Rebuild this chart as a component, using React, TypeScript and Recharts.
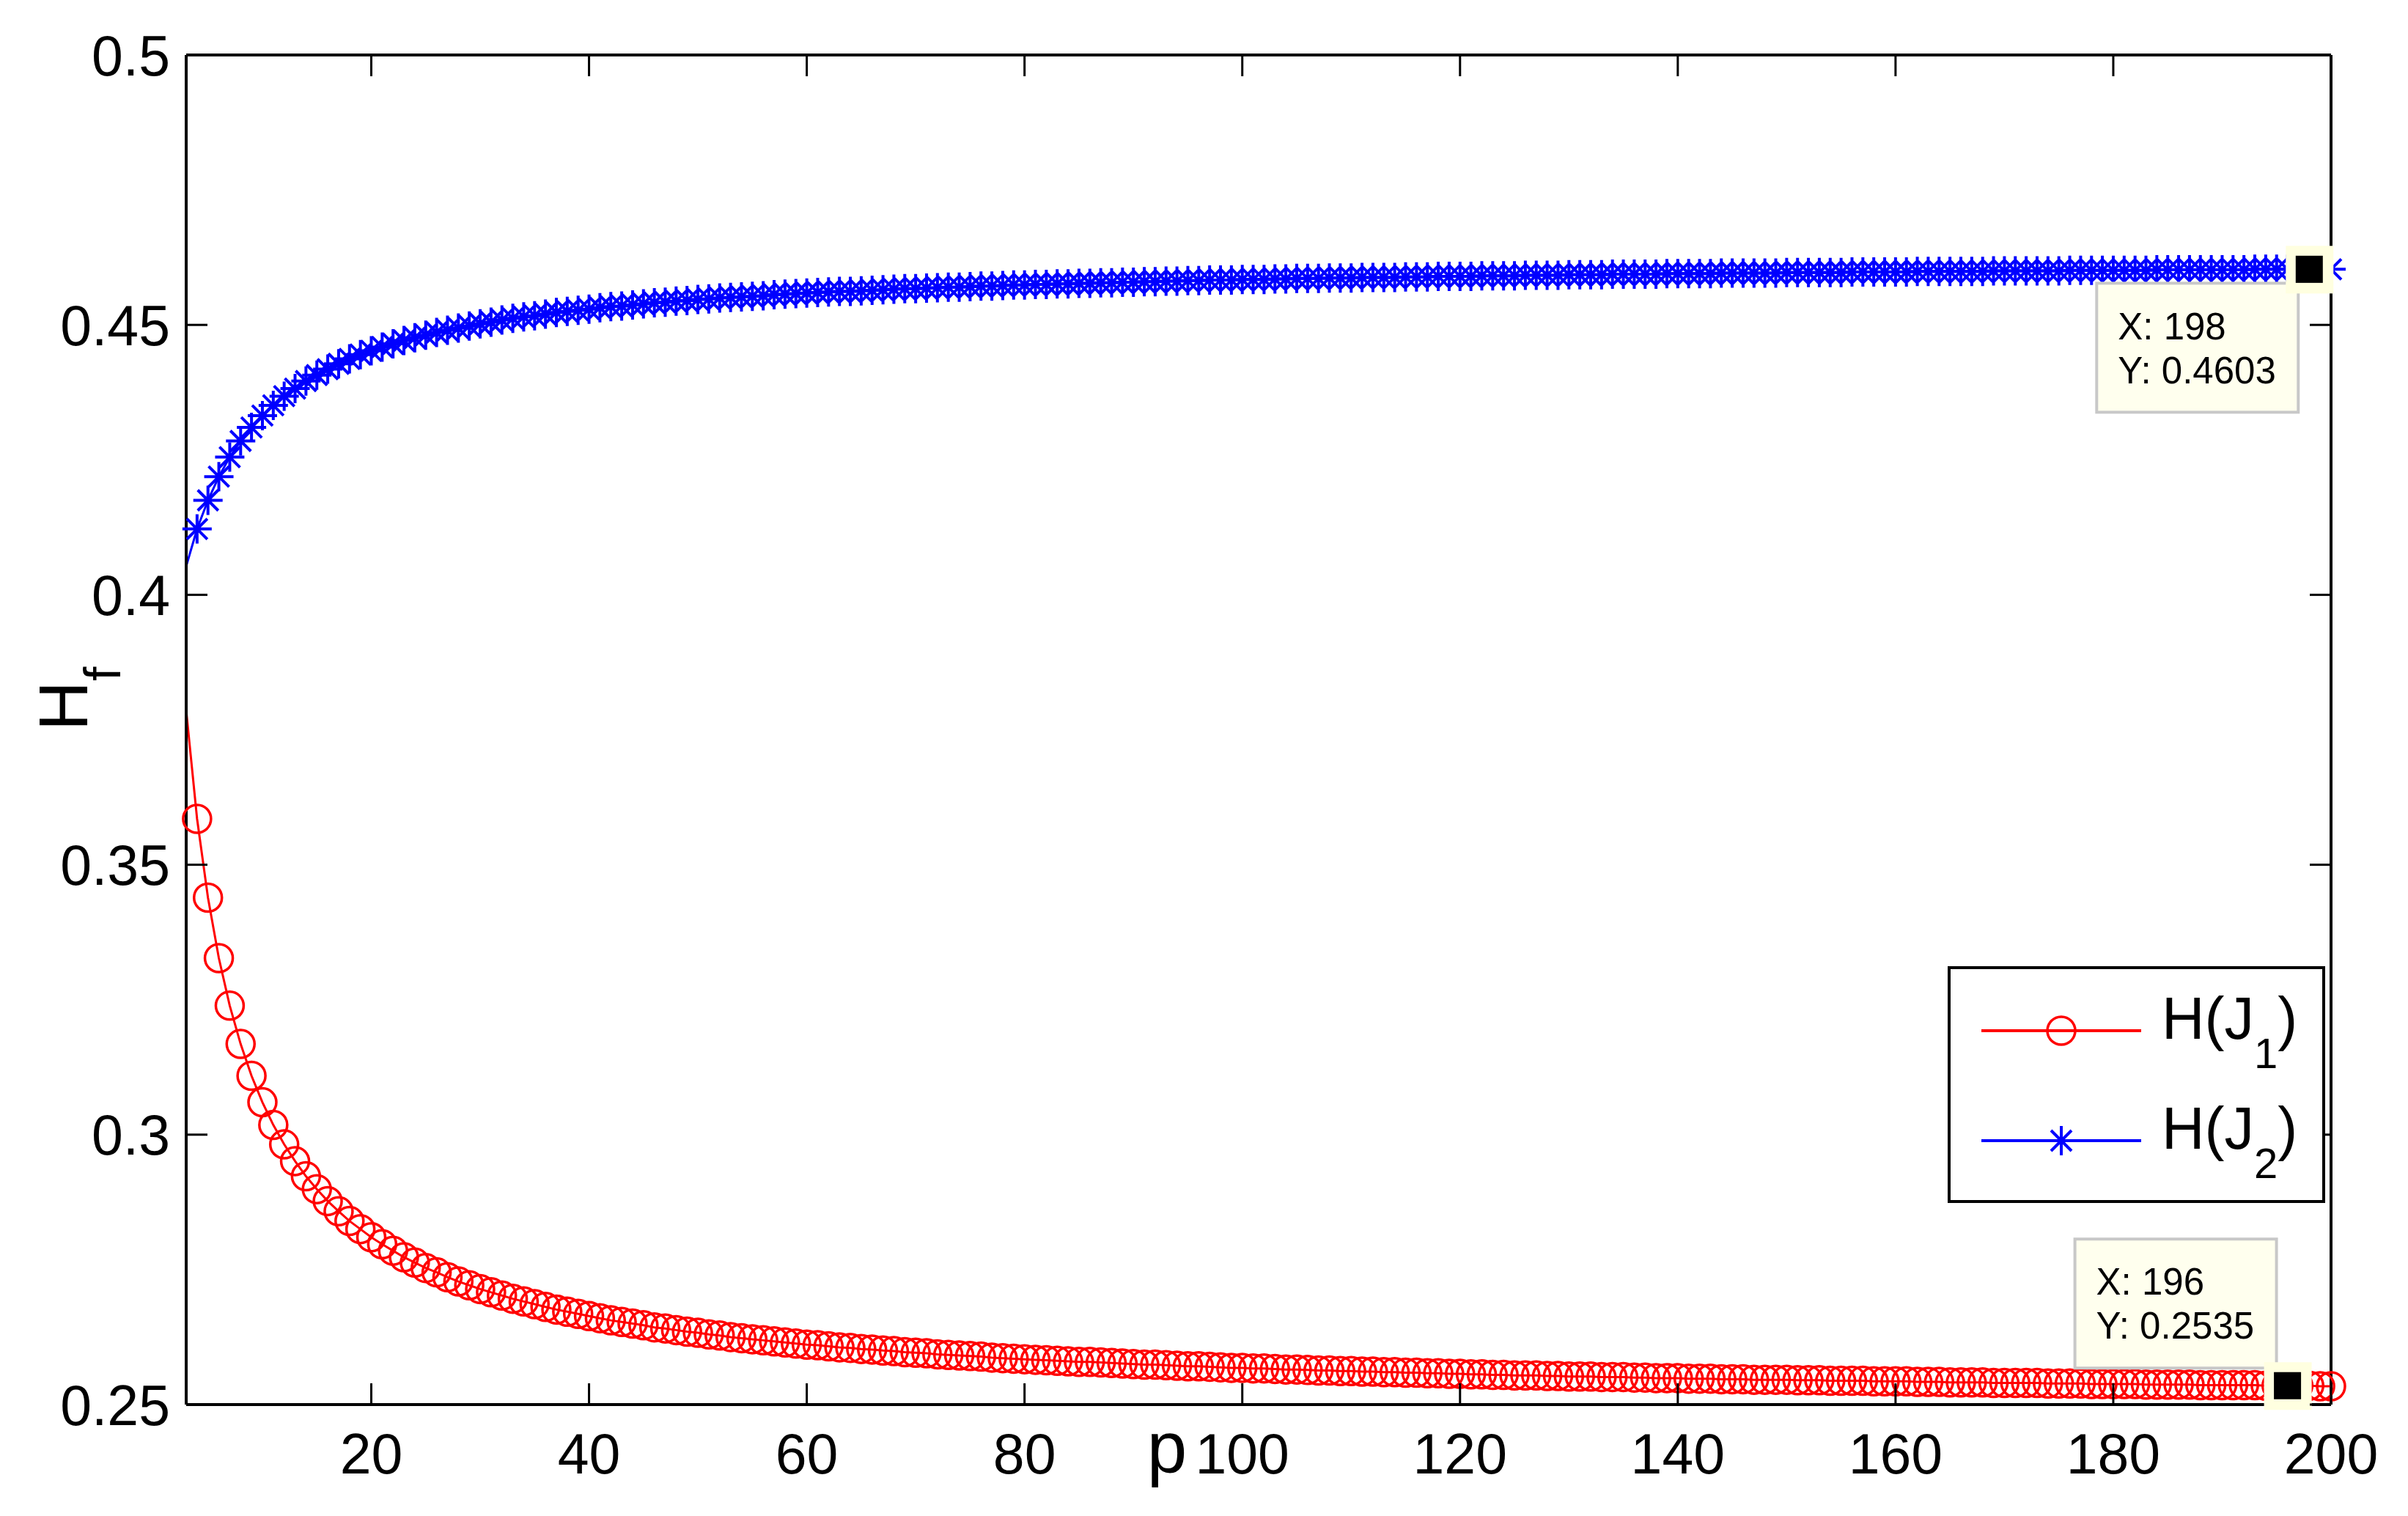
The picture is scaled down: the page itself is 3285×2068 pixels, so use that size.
import React from "react";
import { LineChart, Line, XAxis, YAxis, ReferenceLine, Legend } from "recharts";

// H(J1), p = 3 .. 200
const hJ1 = [
  0.3786, 0.3585, 0.3439, 0.3327, 0.3239, 0.3168, 0.3109, 0.306, 0.3018, 0.2982,
  0.2951, 0.2923, 0.2899, 0.2877, 0.2858, 0.284, 0.2825, 0.281, 0.2797, 0.2785,
  0.2773, 0.2763, 0.2753, 0.2745, 0.2736, 0.2728, 0.2721, 0.2714, 0.2708, 0.2702,
  0.2696, 0.2691, 0.2686, 0.2681, 0.2676, 0.2672, 0.2668, 0.2664, 0.266, 0.2656,
  0.2653, 0.265, 0.2647, 0.2643, 0.2641, 0.2638, 0.2635, 0.2633, 0.263, 0.2628,
  0.2625, 0.2623, 0.2621, 0.2619, 0.2617, 0.2615, 0.2613, 0.2611, 0.261, 0.2608,
  0.2606, 0.2605, 0.2603, 0.2602, 0.26, 0.2599, 0.2597, 0.2596, 0.2595, 0.2593,
  0.2592, 0.2591, 0.259, 0.2589, 0.2587, 0.2586, 0.2585, 0.2584, 0.2583, 0.2582,
  0.2581, 0.258, 0.2579, 0.2579, 0.2578, 0.2577, 0.2576, 0.2575, 0.2574, 0.2574,
  0.2573, 0.2572, 0.2571, 0.2571, 0.257, 0.2569, 0.2568, 0.2568, 0.2567, 0.2567,
  0.2566, 0.2565, 0.2565, 0.2564, 0.2563, 0.2563, 0.2562, 0.2562, 0.2561, 0.2561,
  0.256, 0.256, 0.2559, 0.2559, 0.2558, 0.2558, 0.2557, 0.2557, 0.2556, 0.2556,
  0.2555, 0.2555, 0.2554, 0.2554, 0.2554, 0.2553, 0.2553, 0.2552, 0.2552, 0.2552,
  0.2551, 0.2551, 0.2551, 0.255, 0.255, 0.2549, 0.2549, 0.2549, 0.2548, 0.2548,
  0.2548, 0.2547, 0.2547, 0.2547, 0.2546, 0.2546, 0.2546, 0.2546, 0.2545, 0.2545,
  0.2545, 0.2544, 0.2544, 0.2544, 0.2544, 0.2543, 0.2543, 0.2543, 0.2543, 0.2542,
  0.2542, 0.2542, 0.2541, 0.2541, 0.2541, 0.2541, 0.254, 0.254, 0.254, 0.254,
  0.254, 0.2539, 0.2539, 0.2539, 0.2539, 0.2538, 0.2538, 0.2538, 0.2538, 0.2538,
  0.2537, 0.2537, 0.2537, 0.2537, 0.2537, 0.2536, 0.2536, 0.2536, 0.2536, 0.2536,
  0.2536, 0.2535, 0.2535, 0.2535, 0.2535, 0.2535, 0.2534, 0.2534,
];

// H(J2), p = 3 .. 200
const hJ2 = [
  0.4053, 0.4122, 0.4175, 0.4219, 0.4255, 0.4285, 0.431, 0.4332, 0.4351, 0.4368,
  0.4382, 0.4396, 0.4407, 0.4418, 0.4428, 0.4437, 0.4445, 0.4452, 0.4459, 0.4465,
  0.4471, 0.4476, 0.4481, 0.4486, 0.449, 0.4494, 0.4498, 0.4502, 0.4505, 0.4509,
  0.4512, 0.4515, 0.4517, 0.452, 0.4523, 0.4525, 0.4527, 0.4529, 0.4532, 0.4534,
  0.4535, 0.4537, 0.4539, 0.4541, 0.4542, 0.4544, 0.4545, 0.4547, 0.4548, 0.455,
  0.4551, 0.4552, 0.4553, 0.4554, 0.4556, 0.4557, 0.4558, 0.4559, 0.456, 0.4561,
  0.4562, 0.4562, 0.4563, 0.4564, 0.4565, 0.4566, 0.4567, 0.4567, 0.4568, 0.4569,
  0.457, 0.457, 0.4571, 0.4572, 0.4572, 0.4573, 0.4574, 0.4574, 0.4575, 0.4575,
  0.4576, 0.4576, 0.4577, 0.4577, 0.4578, 0.4578, 0.4579, 0.4579, 0.458, 0.458,
  0.4581, 0.4581, 0.4582, 0.4582, 0.4583, 0.4583, 0.4583, 0.4584, 0.4584, 0.4584,
  0.4585, 0.4585, 0.4586, 0.4586, 0.4586, 0.4587, 0.4587, 0.4587, 0.4588, 0.4588,
  0.4588, 0.4588, 0.4589, 0.4589, 0.4589, 0.459, 0.459, 0.459, 0.459, 0.4591,
  0.4591, 0.4591, 0.4591, 0.4592, 0.4592, 0.4592, 0.4592, 0.4593, 0.4593, 0.4593,
  0.4593, 0.4594, 0.4594, 0.4594, 0.4594, 0.4594, 0.4595, 0.4595, 0.4595, 0.4595,
  0.4595, 0.4596, 0.4596, 0.4596, 0.4596, 0.4596, 0.4596, 0.4597, 0.4597, 0.4597,
  0.4597, 0.4597, 0.4597, 0.4598, 0.4598, 0.4598, 0.4598, 0.4598, 0.4598, 0.4599,
  0.4599, 0.4599, 0.4599, 0.4599, 0.4599, 0.4599, 0.46, 0.46, 0.46, 0.46,
  0.46, 0.46, 0.46, 0.4601, 0.4601, 0.4601, 0.4601, 0.4601, 0.4601, 0.4601,
  0.4601, 0.4602, 0.4602, 0.4602, 0.4602, 0.4602, 0.4602, 0.4602, 0.4602, 0.4602,
  0.4603, 0.4603, 0.4603, 0.4603, 0.4603, 0.4603, 0.4603, 0.4603,
];

const pValues = hJ1.map((_, i) => i + 3);
const xTicks = [20, 40, 60, 80, 100, 120, 140, 160, 180, 200];
const yTicks = [0.25, 0.3, 0.35, 0.4, 0.45, 0.5];
const seriesNames = ["H(J1)", "H(J2)"];
const legendSubs = ["1", "2"];
const seriesColors = ["#ff0000", "#0000ff"];
// data tips: blue at p=198, red at p=196
const tipX = [198, 196];
const tipY = [0.4603, 0.2535];

const data = pValues.map((p, i) => {
  const t = tipX.indexOf(p);
  return { p, h1: hJ1[i], h2: hJ2[i], tip: t >= 0 ? tipY[t] : null };
});

const W = 3285;
const H = 2068;
const TOP = 75;
const BOTTOM = 1916;
const LEFT = 254;
const RIGHT = 3180;
const TICK = 29;
const FONT = "'Liberation Sans', Arial, Helvetica, sans-serif";

const starPath = (cx: number, cy: number) =>
  `M${cx - 20},${cy}H${cx + 20}M${cx},${cy - 20}V${cy + 20}` +
  `M${cx - 14},${cy - 14}L${cx + 14},${cy + 14}M${cx - 14},${cy + 14}L${cx + 14},${cy - 14}`;

const XTick = (props: any) => {
  const { x, payload } = props;
  return (
    <g>
      <line x1={x} x2={x} y1={BOTTOM} y2={BOTTOM - TICK} stroke="#000" strokeWidth={3} />
      <line x1={x} x2={x} y1={TOP} y2={TOP + TICK} stroke="#000" strokeWidth={3} />
      <text x={x} y={2010} textAnchor="middle" fontSize={77} fill="#000">
        {payload.value}
      </text>
    </g>
  );
};

const YTick = (props: any) => {
  const { y, payload } = props;
  return (
    <g>
      <line x1={LEFT} x2={LEFT + TICK} y1={y} y2={y} stroke="#000" strokeWidth={3} />
      <line x1={RIGHT} x2={RIGHT - TICK} y1={y} y2={y} stroke="#000" strokeWidth={3} />
      <text x={232} y={y + 27.5} textAnchor="end" fontSize={77} fill="#000">
        {String(payload.value)}
      </text>
    </g>
  );
};

const circleDot = (props: any) => {
  const { cx, cy, index, payload } = props;
  if (payload.p < 3.5) return <g key={`c-${index}`} />;
  return <circle key={`c-${index}`} cx={cx} cy={cy} r={19} fill="none" stroke={seriesColors[0]} strokeWidth={3.5} />;
};

const starDot = (props: any) => {
  const { cx, cy, index, payload } = props;
  if (payload.p < 3.5) return <g key={`s-${index}`} />;
  return <path key={`s-${index}`} d={starPath(cx, cy)} stroke={seriesColors[1]} strokeWidth={4} fill="none" />;
};

const tipDot = (props: any) => {
  const { cx, cy, index, payload } = props;
  if (payload.tip == null || cy == null) return <g key={`t-${index}`} />;
  const above = payload.p === tipX[1];
  const boxY = above ? cy - 200 : cy + 19;
  const t1 = above ? cy - 124 : cy + 96;
  return (
    <g key={`t-${index}`}>
      <rect x={cx - 290} y={boxY} width={275} height={176} fill="#ffffee" stroke="#c8c8c8" strokeWidth={4} />
      <text x={cx - 261} y={t1} fontSize={51} fill="#000" fontFamily={FONT}>{`X: ${payload.p}`}</text>
      <text x={cx - 261} y={t1 + 60} fontSize={51} fill="#000" fontFamily={FONT}>{`Y: ${payload.tip}`}</text>
      <rect x={cx - 32} y={cy - 32} width={65} height={65} fill="#ffffe0" />
      <rect x={cx - 18.5} y={cy - 18.5} width={37} height={37} fill="#000" />
    </g>
  );
};

const renderLegend = (props: any) => {
  const { payload } = props;
  const items = (payload || []).filter((e: any) => e.type !== "none");
  return (
    <svg width={515} height={323} style={{ display: "block", fontFamily: FONT }}>
      <rect x={2} y={2} width={511} height={319} fill="#fff" stroke="#000" strokeWidth={4} />
      {items.map((entry: any, i: number) => {
        const y = 88 + i * 150;
        return (
          <g key={entry.value}>
            <line x1={46} x2={264} y1={y} y2={y} stroke={entry.color} strokeWidth={4} />
            {i === 0 ? (
              <circle cx={155} cy={y} r={19} fill="none" stroke={entry.color} strokeWidth={3.5} />
            ) : (
              <path d={starPath(155, y)} stroke={entry.color} strokeWidth={4} fill="none" />
            )}
            <text x={292} y={y + 11} fontSize={81} fill="#000">
              {"H(J"}
              <tspan fontSize={58} dy={40}>{legendSubs[i]}</tspan>
              <tspan dy={-40}>)</tspan>
            </text>
          </g>
        );
      })}
    </svg>
  );
};

export default function App() {
  return (
    <div style={{ position: "absolute", left: 0, top: 0, width: W, height: H, background: "#fff" }}>
      <LineChart
        width={W}
        height={H}
        data={data}
        margin={{ top: TOP, right: W - RIGHT, bottom: 52, left: 0 }}
        style={{ fontFamily: FONT }}
      >
        <XAxis
          dataKey="p"
          type="number"
          domain={[3, 200]}
          ticks={xTicks}
          interval={0}
          height={100}
          tickLine={false}
          axisLine={{ stroke: "#000", strokeWidth: 4 }}
          tick={<XTick />}
          label={{
            value: "p",
            content: () => (
              <text x={1592} y={2009} textAnchor="middle" fontSize={98} fill="#000" fontFamily={FONT}>
                p
              </text>
            ),
          }}
        />
        <YAxis
          type="number"
          domain={[0.25, 0.5]}
          ticks={yTicks}
          interval={0}
          width={LEFT}
          tickLine={false}
          axisLine={{ stroke: "#000", strokeWidth: 4 }}
          tick={<YTick />}
          label={{
            value: "Hf",
            content: () => (
              <text transform="rotate(-90)" x={-997} y={119} fontSize={94} fill="#000" fontFamily={FONT}>
                H<tspan fontSize={70} dy={45}>f</tspan>
              </text>
            ),
          }}
        />
        <ReferenceLine y={0.5} stroke="#000" strokeWidth={4} />
        <ReferenceLine x={200} stroke="#000" strokeWidth={4} />
        <Line
          dataKey="h1"
          name={seriesNames[0]}
          stroke={seriesColors[0]}
          strokeWidth={3}
          dot={circleDot}
          activeDot={false}
          isAnimationActive={false}
        />
        <Line
          dataKey="h2"
          name={seriesNames[1]}
          stroke={seriesColors[1]}
          strokeWidth={3}
          dot={starDot}
          activeDot={false}
          isAnimationActive={false}
        />
        <Line
          dataKey="tip"
          name="datatip"
          stroke="none"
          legendType="none"
          dot={tipDot}
          activeDot={false}
          isAnimationActive={false}
        />
        <Legend
          layout="vertical"
          align="center"
          verticalAlign="middle"
          content={renderLegend}
          wrapperStyle={{ left: 2657, top: 1318, width: 515, height: 323 }}
        />
      </LineChart>
    </div>
  );
}
